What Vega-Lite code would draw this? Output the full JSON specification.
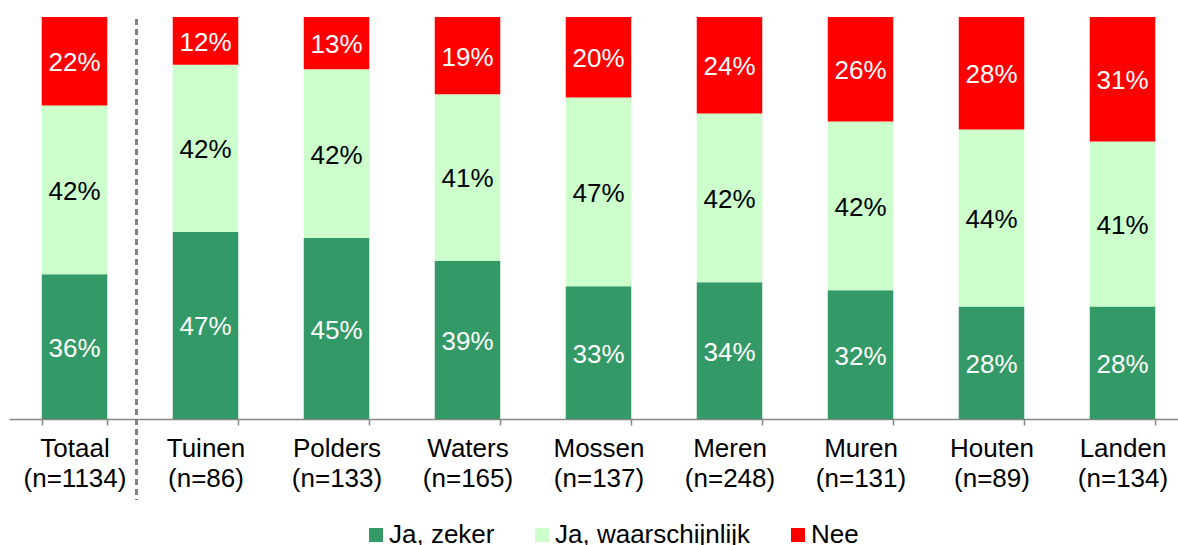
{
  "$schema": "https://vega.github.io/schema/vega-lite/v6.json",
  "autosize": {"type": "none"},
  "padding": {"left": 9, "top": 17, "right": 0, "bottom": 126},
  "width": 1179,
  "height": 402,
  "config": {"view": {"stroke": null}, "font": "Liberation Sans"},
  "data": {
    "values": [
      {"Groep": "Totaal|(n=1134)", "Antwoord": "Ja, zeker", "Rang": 1, "Aandeel": 0.36},
      {"Groep": "Totaal|(n=1134)", "Antwoord": "Ja, waarschijnlijk", "Rang": 2, "Aandeel": 0.42},
      {"Groep": "Totaal|(n=1134)", "Antwoord": "Nee", "Rang": 3, "Aandeel": 0.22},
      {"Groep": "Tuinen|(n=86)", "Antwoord": "Ja, zeker", "Rang": 1, "Aandeel": 0.47},
      {"Groep": "Tuinen|(n=86)", "Antwoord": "Ja, waarschijnlijk", "Rang": 2, "Aandeel": 0.42},
      {"Groep": "Tuinen|(n=86)", "Antwoord": "Nee", "Rang": 3, "Aandeel": 0.12},
      {"Groep": "Polders|(n=133)", "Antwoord": "Ja, zeker", "Rang": 1, "Aandeel": 0.45},
      {"Groep": "Polders|(n=133)", "Antwoord": "Ja, waarschijnlijk", "Rang": 2, "Aandeel": 0.42},
      {"Groep": "Polders|(n=133)", "Antwoord": "Nee", "Rang": 3, "Aandeel": 0.13},
      {"Groep": "Waters|(n=165)", "Antwoord": "Ja, zeker", "Rang": 1, "Aandeel": 0.39},
      {"Groep": "Waters|(n=165)", "Antwoord": "Ja, waarschijnlijk", "Rang": 2, "Aandeel": 0.41},
      {"Groep": "Waters|(n=165)", "Antwoord": "Nee", "Rang": 3, "Aandeel": 0.19},
      {"Groep": "Mossen|(n=137)", "Antwoord": "Ja, zeker", "Rang": 1, "Aandeel": 0.33},
      {"Groep": "Mossen|(n=137)", "Antwoord": "Ja, waarschijnlijk", "Rang": 2, "Aandeel": 0.47},
      {"Groep": "Mossen|(n=137)", "Antwoord": "Nee", "Rang": 3, "Aandeel": 0.20},
      {"Groep": "Meren|(n=248)", "Antwoord": "Ja, zeker", "Rang": 1, "Aandeel": 0.34},
      {"Groep": "Meren|(n=248)", "Antwoord": "Ja, waarschijnlijk", "Rang": 2, "Aandeel": 0.42},
      {"Groep": "Meren|(n=248)", "Antwoord": "Nee", "Rang": 3, "Aandeel": 0.24},
      {"Groep": "Muren|(n=131)", "Antwoord": "Ja, zeker", "Rang": 1, "Aandeel": 0.32},
      {"Groep": "Muren|(n=131)", "Antwoord": "Ja, waarschijnlijk", "Rang": 2, "Aandeel": 0.42},
      {"Groep": "Muren|(n=131)", "Antwoord": "Nee", "Rang": 3, "Aandeel": 0.26},
      {"Groep": "Houten|(n=89)", "Antwoord": "Ja, zeker", "Rang": 1, "Aandeel": 0.28},
      {"Groep": "Houten|(n=89)", "Antwoord": "Ja, waarschijnlijk", "Rang": 2, "Aandeel": 0.44},
      {"Groep": "Houten|(n=89)", "Antwoord": "Nee", "Rang": 3, "Aandeel": 0.28},
      {"Groep": "Landen|(n=134)", "Antwoord": "Ja, zeker", "Rang": 1, "Aandeel": 0.28},
      {"Groep": "Landen|(n=134)", "Antwoord": "Ja, waarschijnlijk", "Rang": 2, "Aandeel": 0.41},
      {"Groep": "Landen|(n=134)", "Antwoord": "Nee", "Rang": 3, "Aandeel": 0.31}
    ]
  },
  "encoding": {
    "x": {
      "field": "Groep",
      "type": "nominal",
      "sort": null,
      "scale": {"paddingInner": 0.5, "paddingOuter": 0.25},
      "axis": {
        "title": null,
        "labelAngle": 0,
        "labelExpr": "split(datum.label, '|')",
        "labelFontSize": 26,
        "labelFont": "Liberation Sans",
        "labelColor": "#000000",
        "labelLineHeight": 30,
        "labelPadding": 10,
        "labelBaseline": "top",
        "labelLimit": 0,
        "tickSize": 6,
        "tickColor": "#868686",
        "tickWidth": 1.5,
        "tickBand": "extent",
        "domainColor": "#868686",
        "domainWidth": 1.5,
        "grid": false
      }
    }
  },
  "layer": [
    {
      "mark": {"type": "bar"},
      "encoding": {
        "y": {"field": "Aandeel", "type": "quantitative", "stack": "normalize", "scale": {"domain": [0, 1]}, "axis": null},
        "color": {
          "field": "Antwoord",
          "type": "nominal",
          "scale": {"domain": ["Ja, zeker", "Ja, waarschijnlijk", "Nee"], "range": ["#339966", "#CCFFCC", "#FF0000"]},
          "legend": {
            "orient": "none",
            "legendX": 354,
            "legendY": 505,
            "direction": "horizontal",
            "title": null,
            "symbolType": "square",
            "symbolSize": 196,
            "symbolStrokeWidth": 0,
            "symbolOpacity": 1,
            "labelFontSize": 26,
            "labelFont": "Liberation Sans",
            "labelColor": "#000000",
            "labelOffset": 0,
            "labelLimit": 0,
            "columnPadding": 34,
            "padding": 0
          }
        },
        "order": {"field": "Rang", "type": "quantitative"}
      }
    },
    {
      "mark": {"type": "text", "fontSize": 26, "font": "Liberation Sans", "dy": 2},
      "encoding": {
        "y": {"field": "Aandeel", "type": "quantitative", "stack": "normalize", "bandPosition": 0.5},
        "detail": {"field": "Antwoord"},
        "order": {"field": "Rang", "type": "quantitative"},
        "text": {"field": "Aandeel", "type": "quantitative", "format": ".0%"},
        "color": {
          "condition": {"test": "datum['Antwoord'] === 'Ja, waarschijnlijk'", "value": "#000000"},
          "value": "#FFFFFF"
        }
      }
    },
    {
      "mark": {"type": "rule", "strokeDash": [6, 4], "strokeWidth": 2, "color": "#808080"},
      "encoding": {
        "x": {"datum": "Totaal|(n=1134)", "bandPosition": 1.45},
        "y": {"datum": 0.995},
        "y2": {"datum": -0.2}
      }
    }
  ]
}
